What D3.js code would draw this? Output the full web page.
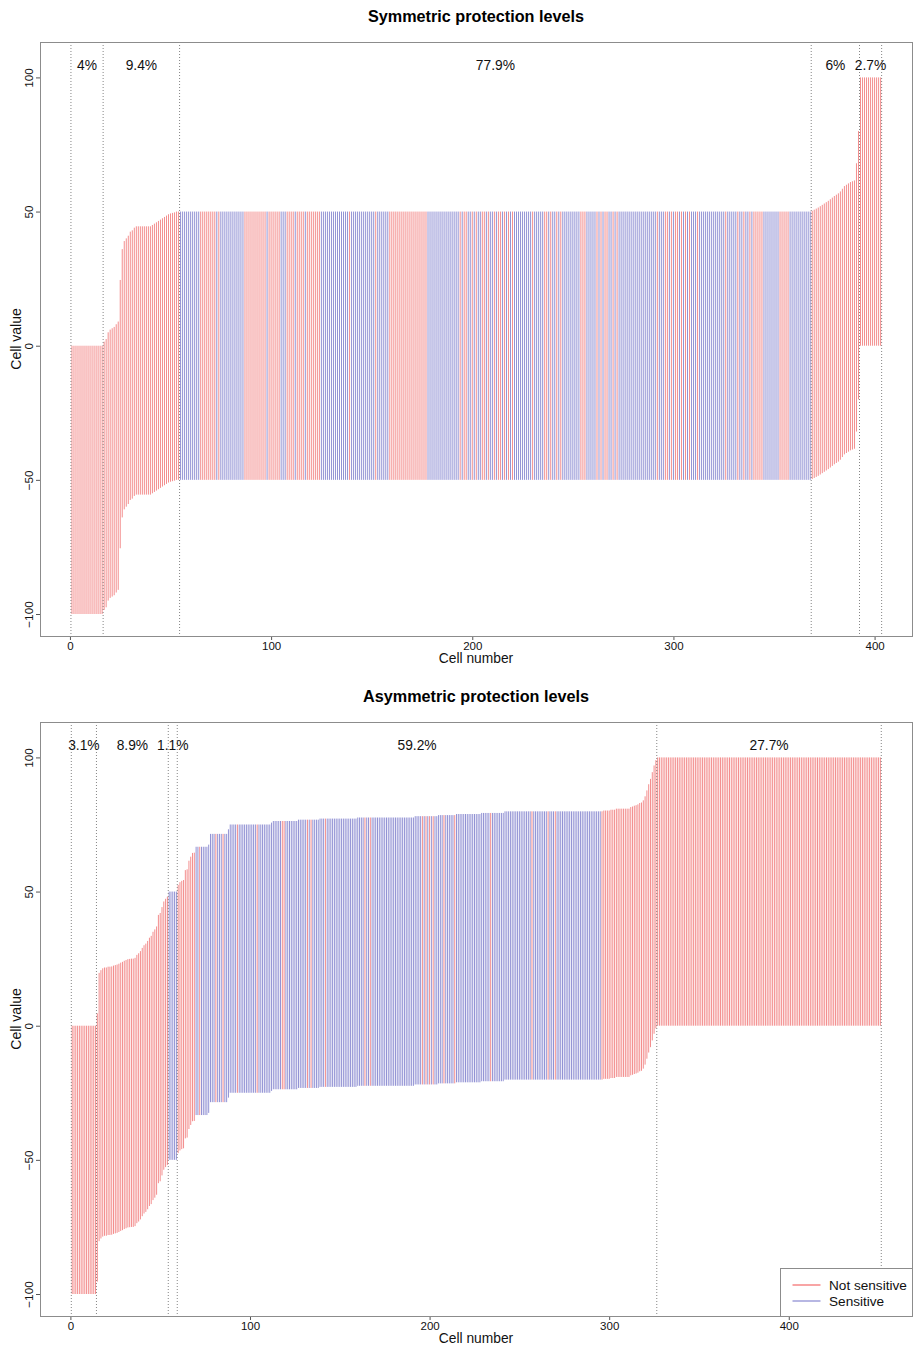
<!DOCTYPE html>
<html>
<head>
<meta charset="utf-8">
<script src="https://cdn.jsdelivr.net/npm/d3@7"></script>
<style>
  body { margin: 0; background: #fff; }
  svg { display: block; font-family: "Liberation Sans", Arial, sans-serif; }
</style>
</head>
<body>
<div id="chart"></div>
<script>
// ---- data: runs of [number of cells, lower value, upper value] ----
const symRuns = [
  [16, -100, 0],
  [1, -98.5, 1.5], [1, -97.5, 2.5], [1, -95, 5], [1, -94, 6], [1, -93.5, 6.5], [1, -93, 7],
  [1, -92, 8], [1, -91, 9], [1, -75.5, 24.5], [1, -64, 36], [1, -61, 39], [1, -60, 40],
  [1, -59, 41], [1, -57.5, 42.5], [1, -57, 43], [1, -56, 44], [8, -55.5, 44.5],
  [1, -55, 45], [1, -54.5, 45.5], [1, -54, 46], [1, -53.5, 46.5], [1, -53, 47], [1, -52.5, 47.5],
  [1, -52, 48], [1, -51.5, 48.5], [1, -51, 49], [1, -50.7, 49.3], [1, -50.5, 49.5], [1, -50.3, 49.7],
  [316, -50, 50],
  [1, -49.7, 50.3], [1, -49.3, 50.7], [1, -48.9, 51.1], [1, -48.5, 51.5], [1, -48, 52], [1, -47.5, 52.5],
  [1, -47, 53], [1, -46.5, 53.5], [1, -46, 54], [1, -45.4, 54.6], [1, -44.8, 55.2], [1, -44.2, 55.8],
  [1, -43.7, 56.3], [1, -43.2, 56.8], [1, -42.5, 57.5], [1, -41.5, 58.5], [1, -40.5, 59.5], [1, -40, 60],
  [1, -39.5, 60.5], [1, -39, 61], [1, -38.7, 61.3], [1, -38.4, 61.6], [1, -32, 68], [1, -20, 80],
  [11, 0, 100]
];
// r = not sensitive, b = sensitive (count prefix = repeated cells)
const symColors = "54r 10b 8r b r 12b 11r b 6r 3b 4r b 4r b 7r 14b r 12b r 6b 19r 14b " +
  "2b r b 2r 2b r b r 2b 2r b r 2b r b 2r b r b r b r 9b r 5b r r b r 2b r b r " +
  "9b 3r 5b r b r b 2r 2b r b r b 15b 3b r 3b r r b r b 2r b r b r b r 3b r 7b " +
  "6b r 3b 2b r 2b r 2b r b 5r 8b 5r 11b 35r";
const symGroups = [16, 38, 314, 24, 11];
const symLabels = ["4%", "9.4%", "77.9%", "6%", "2.7%"];

const asymRuns = [
  [14, -100, 0],
  [1, -95.4, 4.6], [1, -80.3, 19.7], [1, -79.3, 20.7], [1, -78.6, 21.4], [2, -78.3, 21.7], [2, -78, 22],
  [1, -77.9, 22.1], [1, -77.6, 22.4], [1, -77.4, 22.6], [1, -77.2, 22.8], [1, -76.9, 23.1], [1, -76.5, 23.5],
  [1, -76.2, 23.8], [1, -75.8, 24.2], [1, -75.5, 24.5], [1, -75.2, 24.8], [1, -75.1, 24.9], [2, -75, 25],
  [1, -74.7, 25.3], [1, -73.6, 26.4], [1, -73, 27], [1, -72.2, 27.8], [1, -71, 29], [1, -70, 30],
  [1, -69.4, 30.6], [1, -68.4, 31.6], [1, -67.2, 32.8], [1, -66.5, 33.5], [1, -65, 35], [1, -64.1, 35.9],
  [1, -63, 37], [1, -58.7, 41.3], [1, -58, 42], [1, -55.8, 44.2], [1, -53.7, 46.3], [1, -52.7, 47.3],
  [1, -51.9, 48.1],
  [5, -50, 50],
  [1, -47.5, 52.5], [1, -46.5, 53.5], [1, -46, 54], [1, -45.7, 54.3], [1, -42, 58], [1, -41.7, 58.3],
  [1, -38.5, 61.5], [1, -37, 63], [1, -35.6, 64.4], [1, -35.5, 64.5],
  [7, -33.3, 66.7], [1, -32.5, 67.5], [10, -28.5, 71.5], [1, -26.8, 73.2], [23, -25, 75], [1, -24.3, 75.7],
  [14, -23.7, 76.3], [12, -23.2, 76.8], [21, -22.8, 77.2], [32, -22.4, 77.6], [13, -21.9, 78.1],
  [10, -21.5, 78.5], [14, -21.1, 78.9], [13, -20.7, 79.3], [55, -20.1, 79.9], [4, -19.8, 80.2],
  [3, -19.5, 80.5], [8, -19.1, 80.9],
  [1, -18.5, 81.5], [1, -18.3, 81.7], [1, -18, 82], [1, -17.8, 82.2], [1, -17.5, 82.5], [1, -17, 83],
  [1, -16.8, 83.2], [1, -16, 84], [1, -14.5, 85.5], [1, -12.3, 87.7], [1, -10, 90], [1, -8, 92],
  [1, -5.5, 94.5], [1, -3, 97], [1, -1, 99],
  [125, 0, 100]
];
const asymColors = "54r 5b 10r 2b r 8b r 3b r 7b r 10b r 13b 2r 12b r b r 7b r 21b r 2b r 28b " +
  "r b r b r b r 5b r 5b r 19b r 22b r 8b r 3b r 25b 156r";
const asymGroups = [14, 40, 5, 267, 125];
const asymLabels = ["3.1%", "8.9%", "1.1%", "59.2%", "27.7%"];

const yTicks = [-100, -50, 0, 50, 100];
const xTicks = [0, 100, 200, 300, 400];
const legendItems = ["Not sensitive", "Sensitive"];

// ---- layout ----
const width = 915, height = 1345;
const box = { left: 40, right: 912, top: 42, bottom: 636 };
const panelStep = 680;
const cellColor = { r: "rgb(243,142,142)", b: "rgb(146,146,212)" };
const legendColor = { r: "rgb(244,105,105)", b: "rgb(135,135,208)" };

function expandRuns(runs) {
  const out = [];
  runs.forEach(([n, lo, hi]) => { for (let i = 0; i < n; i++) out.push({ lo, hi }); });
  return out;
}
function expandColors(str) {
  const out = [];
  str.trim().split(/\s+/).forEach(tok => {
    const m = tok.match(/^(\d*)([rb])$/);
    const n = m[1] ? +m[1] : 1;
    for (let i = 0; i < n; i++) out.push(m[2]);
  });
  return out;
}

const svg = d3.select("#chart").append("svg")
  .attr("width", width)
  .attr("height", height)
  .attr("viewBox", [0, 0, width, height]);

svg.append("rect").attr("width", width).attr("height", height).attr("fill", "#fff");

function drawPanel(offset, xRange, title, runs, colors, groups, labels, withLegend) {
  const g = svg.append("g").attr("transform", `translate(0,${offset})`);
  const cells = expandRuns(runs);
  const cols = expandColors(colors);
  cells.forEach((d, i) => { d.k = i + 1; d.c = cols[i]; });
  const n = cells.length;

  // R style 4% expansion of data range
  const pad = 0.04 * (n - 1);
  const x = d3.scaleLinear([1 - pad, n + pad], xRange);
  const y = d3.scaleLinear([-100 - 0.04 * 205, 105 + 0.04 * 205], [box.bottom, box.top]);

  // cell segments
  g.append("g")
    .selectAll("line")
    .data(cells)
    .join("line")
    .attr("x1", d => x(d.k))
    .attr("x2", d => x(d.k))
    .attr("y1", d => y(d.lo))
    .attr("y2", d => y(d.hi))
    .attr("stroke", d => cellColor[d.c])
    .attr("stroke-width", 1);

  // group boundaries
  const bounds = [0.5];
  groups.forEach(c => bounds.push(bounds[bounds.length - 1] + c));
  g.append("g")
    .selectAll("line")
    .data(bounds)
    .join("line")
    .attr("x1", d => x(d)).attr("x2", d => x(d))
    .attr("y1", box.top).attr("y2", box.bottom)
    .attr("stroke", "#666")
    .attr("stroke-width", 0.8)
    .attr("stroke-dasharray", "1,2");

  g.append("g")
    .selectAll("text")
    .data(labels)
    .join("text")
    .attr("x", (d, i) => x((bounds[i] + bounds[i + 1]) / 2))
    .attr("y", y(105))
    .attr("dy", "0.45em")
    .attr("text-anchor", "middle")
    .attr("font-size", 13.8)
    .attr("fill", "#111")
    .text(d => d);

  // axes
  g.append("g")
    .attr("transform", `translate(0,${box.bottom})`)
    .call(d3.axisBottom(x).tickValues(xTicks).tickSize(4).tickPadding(1.5).tickSizeOuter(0))
    .call(a => a.select(".domain").remove())
    .call(a => a.selectAll(".tick line").attr("stroke", "#555"))
    .call(a => a.selectAll(".tick text").attr("font-size", 11.5).attr("fill", "#111")
      .attr("font-family", "Liberation Sans, Arial, sans-serif"));

  g.append("g")
    .attr("transform", `translate(${box.left},0)`)
    .call(d3.axisLeft(y).tickValues(yTicks).tickSize(4).tickSizeOuter(0))
    .call(a => a.select(".domain").remove())
    .call(a => a.selectAll(".tick line").attr("stroke", "#555"))
    .call(a => a.selectAll(".tick text")
      .attr("transform", "rotate(-90)")
      .attr("x", 0).attr("y", -7).attr("dy", 0)
      .attr("text-anchor", "middle")
      .attr("font-size", 11.8).attr("fill", "#111")
      .attr("font-family", "Liberation Sans, Arial, sans-serif"));

  // frame
  g.append("rect")
    .attr("x", box.left + 0.5).attr("y", box.top + 0.5)
    .attr("width", box.right - box.left).attr("height", box.bottom - box.top)
    .attr("fill", "none").attr("stroke", "#8c8c8c").attr("stroke-width", 1);

  g.append("text")
    .attr("x", (box.left + box.right) / 2).attr("y", 22)
    .attr("text-anchor", "middle")
    .attr("font-size", 16.2).attr("font-weight", "bold")
    .text(title);

  g.append("text")
    .attr("x", (box.left + box.right) / 2).attr("y", 663)
    .attr("text-anchor", "middle")
    .attr("font-size", 13.8).attr("fill", "#111")
    .text("Cell number");

  g.append("text")
    .attr("transform", `translate(21,${(box.top + box.bottom) / 2}) rotate(-90)`)
    .attr("text-anchor", "middle")
    .attr("font-size", 14).attr("fill", "#111")
    .text("Cell value");

  if (withLegend) {
    const lg = g.append("g").attr("transform", `translate(780.5,588.5)`);
    lg.append("rect").attr("width", 132).attr("height", 48)
      .attr("fill", "#fff").attr("stroke", "#8c8c8c");
    const rows = lg.selectAll("g").data(legendItems).join("g")
      .attr("transform", (d, i) => `translate(0,${16.5 + i * 16})`);
    rows.append("line").attr("x1", 12).attr("x2", 40)
      .attr("stroke", (d, i) => legendColor[i ? "b" : "r"]).attr("stroke-width", 1.2);
    rows.append("text").attr("x", 48.5).attr("dy", "0.35em")
      .attr("font-size", 13.6).attr("fill", "#111").text(d => d);
  }
}

drawPanel(0, [39.61, 912.97], "Symmetric protection levels",
  symRuns, symColors, symGroups, symLabels, false);
drawPanel(panelStep, [39.87, 912.7], "Asymmetric protection levels",
  asymRuns, asymColors, asymGroups, asymLabels, true);
</script>
</body>
</html>
